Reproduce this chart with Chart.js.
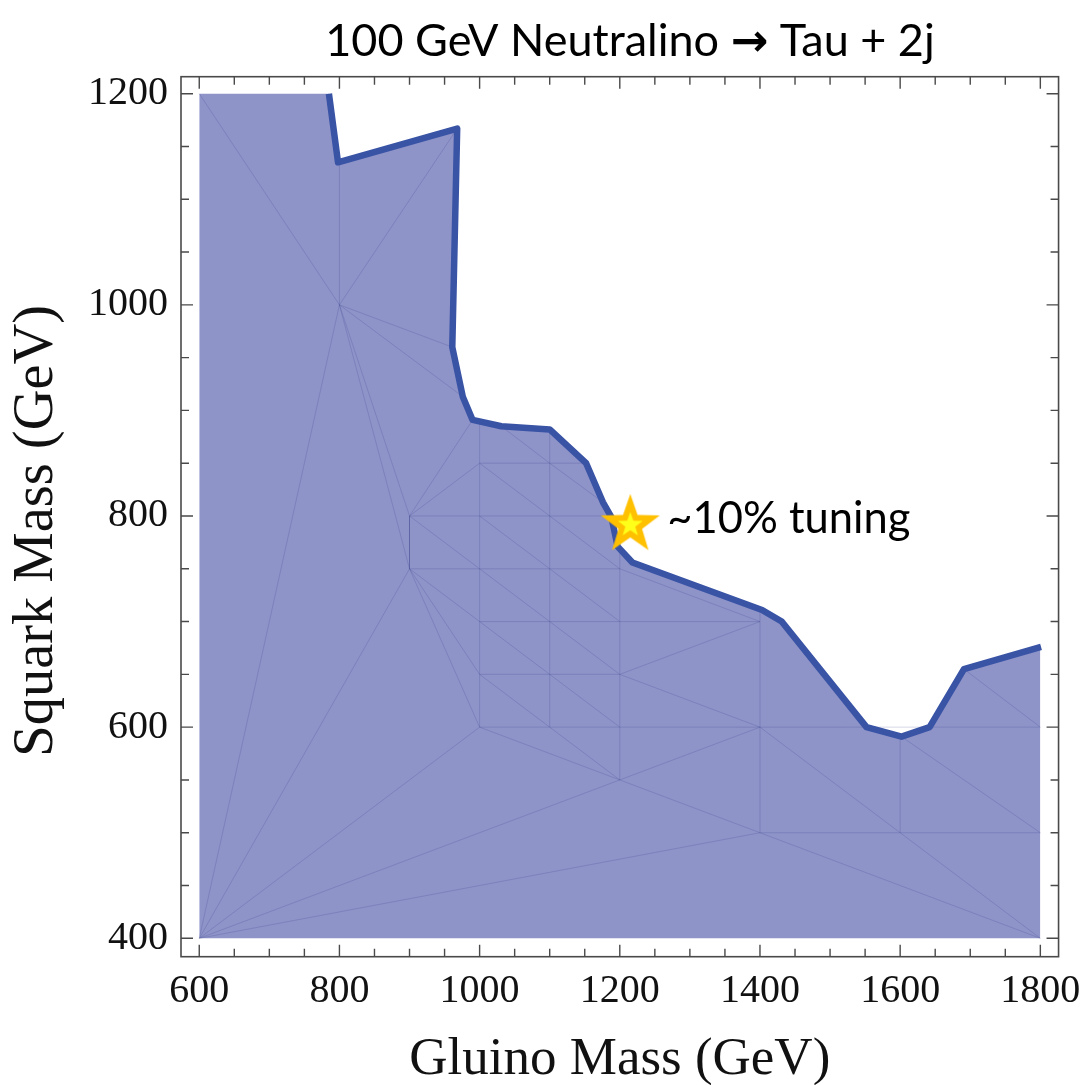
<!DOCTYPE html>
<html>
<head>
<meta charset="utf-8">
<script src="https://cdn.jsdelivr.net/npm/chart.js@4.4.1/dist/chart.umd.min.js"></script>
<style>
  html, body { margin: 0; padding: 0; background: #ffffff; }
  canvas { display: block; }
</style>
</head>
<body>
<canvas id="chart" width="1092" height="1085"></canvas>
<script>
// ---- labels ----
const titleParts = ['100 GeV Neutralino ', '\u2192', ' Tau + 2j'];
const xAxisTitle = 'Gluino Mass (GeV)';
const yAxisTitle = 'Squark Mass (GeV)  ';

// ---- axis ticks (GeV) ----
const xMajorTicks = [600, 800, 1000, 1200, 1400, 1600, 1800];
const xAllTicks = [600, 650, 700, 750, 800, 850, 900, 950, 1000, 1050, 1100, 1150, 1200,
                   1250, 1300, 1350, 1400, 1450, 1500, 1550, 1600, 1650, 1700, 1750, 1800];
const yMajorTicks = [400, 600, 800, 1000, 1200];
const yAllTicks = [400, 450, 500, 550, 600, 650, 700, 750, 800, 850, 900, 950, 1000,
                   1050, 1100, 1150, 1200];

// ---- excluded-region contour (gluino mass, squark mass) ----
const edgeGluino = [785, 798, 968, 961, 976, 990, 1031, 1100, 1152, 1176, 1188, 1197, 1218,
                    1403, 1431, 1552, 1602, 1642, 1691, 1801];
const edgeSquark = [1200, 1135, 1167, 960, 913, 891, 885, 882, 850, 813, 799, 771, 756,
                    711, 700, 600, 591, 600, 655, 676];

// scanned region corner and floor
const regionCornerGluino = 600;
const regionCornerSquark = 1200;
const regionFloorSquark = 400;
const regionEdgeGluino = 1800;

// ---- benchmark point ----
const tuningGluino = 1215;
const tuningSquark = 793;
const tuningLabel = '~10% tuning';

// ---- interpolation mesh edges [g1, s1, g2, s2] ----
const meshEdges = [
  [600, 1200, 800, 1000], [600, 400, 800, 1000], [800, 1000, 800, 1135],
  [800, 1000, 966, 1165], [800, 1000, 961, 960], [800, 1000, 976, 913],
  [800, 1000, 900, 800], [800, 1000, 900, 750],
  [600, 400, 900, 750], [600, 400, 1000, 600], [600, 400, 1200, 550], [600, 400, 1400, 500],
  [900, 800, 990, 891], [900, 800, 1000, 850], [900, 800, 900, 750], [900, 800, 1188, 800],
  [900, 800, 1000, 750], [900, 750, 1200, 750], [900, 750, 1000, 700], [900, 750, 1000, 650],
  [900, 750, 1000, 600],
  [1000, 600, 1000, 890], [1100, 600, 1100, 882], [1200, 550, 1200, 770],
  [1400, 500, 1400, 711], [1600, 500, 1600, 591],
  [1000, 850, 1152, 850], [1000, 700, 1400, 700], [1000, 650, 1200, 650],
  [1000, 600, 1800, 600], [1400, 500, 1800, 500],
  [1000, 850, 1200, 750], [1000, 800, 1200, 700], [1000, 750, 1200, 650],
  [1000, 700, 1200, 600], [1000, 650, 1200, 550],
  [1031, 885, 1100, 850], [1100, 850, 1176, 813],
  [1000, 600, 1200, 550], [1200, 550, 1400, 600], [1200, 550, 1400, 500],
  [1200, 650, 1400, 700], [1200, 650, 1400, 600], [1200, 750, 1400, 700],
  [1400, 600, 1600, 500], [1600, 500, 1800, 400], [1400, 500, 1800, 400],
  [1602, 591, 1800, 500], [1691, 655, 1800, 600]
];

// ---- colours ----
const regionFill = '#8e93c8';
const contourColor = '#3953a5';
const meshColor = 'rgba(50, 60, 135, 0.2)';
const frameColor = '#4a4a4a';

// ---- build datasets ----
const edgePoints = edgeGluino.map((g, i) => ({ x: g, y: edgeSquark[i] }));
const regionPoints = [{ x: regionCornerGluino, y: regionCornerSquark }]
  .concat(edgePoints.slice(0, -1))
  .concat([{ x: regionEdgeGluino, y: edgeSquark[edgeSquark.length - 1] }]);

function makeStar(outerR) {
  const size = Math.ceil(outerR * 2 + 4);
  const c = document.createElement('canvas');
  c.width = size; c.height = size;
  const g = c.getContext('2d');
  const cx = size / 2, cy = size / 2 + outerR * 0.05;
  function star(R, r, color) {
    g.beginPath();
    for (let k = 0; k < 10; k++) {
      const rad = k % 2 === 0 ? R : r;
      const a = -Math.PI / 2 + k * Math.PI / 5;
      const px = cx + rad * Math.cos(a), py = cy + rad * Math.sin(a);
      if (k === 0) g.moveTo(px, py); else g.lineTo(px, py);
    }
    g.closePath();
    g.fillStyle = color;
    g.fill();
  }
  star(outerR, outerR * 0.40, '#ffc000');
  star(outerR * 0.42, outerR * 0.42 * 0.40, '#ffff1a');
  return c;
}

const datasets = [];
datasets.push({
  label: 'region',
  data: regionPoints,
  showLine: true,
  borderWidth: 0,
  borderColor: 'rgba(0,0,0,0)',
  backgroundColor: regionFill,
  fill: { target: { value: regionFloorSquark } },
  pointRadius: 0,
  order: 10
});
meshEdges.forEach((e, i) => {
  datasets.push({
    label: 'mesh' + i,
    data: [{ x: e[0], y: e[1] }, { x: e[2], y: e[3] }],
    showLine: true,
    borderColor: meshColor,
    borderWidth: 1,
    pointRadius: 0,
    fill: false,
    order: 5
  });
});
datasets.push({
  label: 'contour',
  data: edgePoints,
  showLine: true,
  borderColor: contourColor,
  borderWidth: 6.5,
  borderJoinStyle: 'round',
  borderCapStyle: 'butt',
  pointRadius: 0,
  fill: false,
  order: 2
});
datasets.push({
  label: 'tuning',
  data: [{ x: tuningGluino, y: tuningSquark }],
  showLine: false,
  pointStyle: makeStar(31),
  pointRadius: 31,
  order: 1
});

// frame with inward ticks on all four sides, heading and annotation
const frameTicks = {
  id: 'frameTicks',
  afterDraw(chart) {
    const { ctx, chartArea: a, scales } = chart;
    const xs = scales.x, ys = scales.y;
    ctx.save();
    ctx.strokeStyle = frameColor;
    ctx.lineWidth = 1.6;
    ctx.strokeRect(a.left, a.top, a.right - a.left, a.bottom - a.top);
    ctx.lineWidth = 1.4;
    ctx.beginPath();
    xAllTicks.forEach(v => {
      const p = xs.getPixelForValue(v);
      const len = xMajorTicks.includes(v) ? 12 : 8;
      ctx.moveTo(p, a.bottom); ctx.lineTo(p, a.bottom - len);
      ctx.moveTo(p, a.top); ctx.lineTo(p, a.top + len);
    });
    yAllTicks.forEach(v => {
      const p = ys.getPixelForValue(v);
      const len = yMajorTicks.includes(v) ? 12 : 8;
      ctx.moveTo(a.left, p); ctx.lineTo(a.left + len, p);
      ctx.moveTo(a.right, p); ctx.lineTo(a.right - len, p);
    });
    ctx.stroke();

    ctx.fillStyle = '#000000';
    ctx.textBaseline = 'alphabetic';
    ctx.textAlign = 'left';
    const plainFont = '45px Lato, "DejaVu Sans", sans-serif';
    const arrowFont = 'bold 45px "DejaVu Sans", sans-serif';
    const fonts = [plainFont, arrowFont, plainFont];
    const widths = titleParts.map((t, i) => { ctx.font = fonts[i]; return ctx.measureText(t).width; });
    let tx = 630 - widths.reduce((s, w) => s + w, 0) / 2;
    titleParts.forEach((t, i) => {
      ctx.font = fonts[i];
      ctx.fillText(t, tx, 56);
      tx += widths[i];
    });

    ctx.font = '43.5px Lato, "DejaVu Sans", sans-serif';
    const sx = xs.getPixelForValue(tuningGluino);
    const sy = ys.getPixelForValue(tuningSquark);
    ctx.fillText(tuningLabel, sx + 37, sy + 10);
    ctx.restore();
  }
};

const serif = 'Liberation Serif, "Times New Roman", serif';

new Chart(document.getElementById('chart'), {
  type: 'scatter',
  data: { datasets },
  plugins: [frameTicks],
  options: {
    responsive: false,
    animation: false,
    devicePixelRatio: 1,
    layout: { padding: { top: 76.7, right: 31, left: 0, bottom: 0 } },
    plugins: { legend: { display: false }, tooltip: { enabled: false }, title: { display: false } },
    scales: {
      x: {
        type: 'linear',
        position: 'bottom',
        min: 573.96,
        max: 1826.0,
        afterBuildTicks(scale) { scale.ticks = xAllTicks.map(v => ({ value: v })); },
        afterFit(scale) { scale.height = 128.3; },
        grid: { display: false, drawTicks: false },
        border: { display: false },
        ticks: {
          autoSkip: false,
          maxRotation: 0,
          padding: 11,
          color: '#111111',
          font: { family: serif, size: 40 },
          callback: v => (xMajorTicks.includes(v) ? String(v) : '')
        },
        title: {
          display: true,
          text: xAxisTitle,
          color: '#111111',
          font: { family: serif, size: 53, lineHeight: 1 },
          padding: { top: 0, bottom: -2 }
        }
      },
      y: {
        type: 'linear',
        position: 'left',
        min: 382.57,
        max: 1216.1,
        afterBuildTicks(scale) { scale.ticks = yAllTicks.map(v => ({ value: v })); },
        afterFit(scale) { scale.width = 181; },
        grid: { display: false, drawTicks: false },
        border: { display: false },
        ticks: {
          autoSkip: false,
          padding: 13,
          color: '#111111',
          font: { family: serif, size: 40 },
          callback: v => (yMajorTicks.includes(v) ? String(v) : '')
        },
        title: {
          display: true,
          text: yAxisTitle,
          color: '#111111',
          font: { family: serif, size: 56.5, lineHeight: 1 },
          padding: { top: 9, bottom: 0 }
        }
      }
    }
  }
});
</script>
</body>
</html>
